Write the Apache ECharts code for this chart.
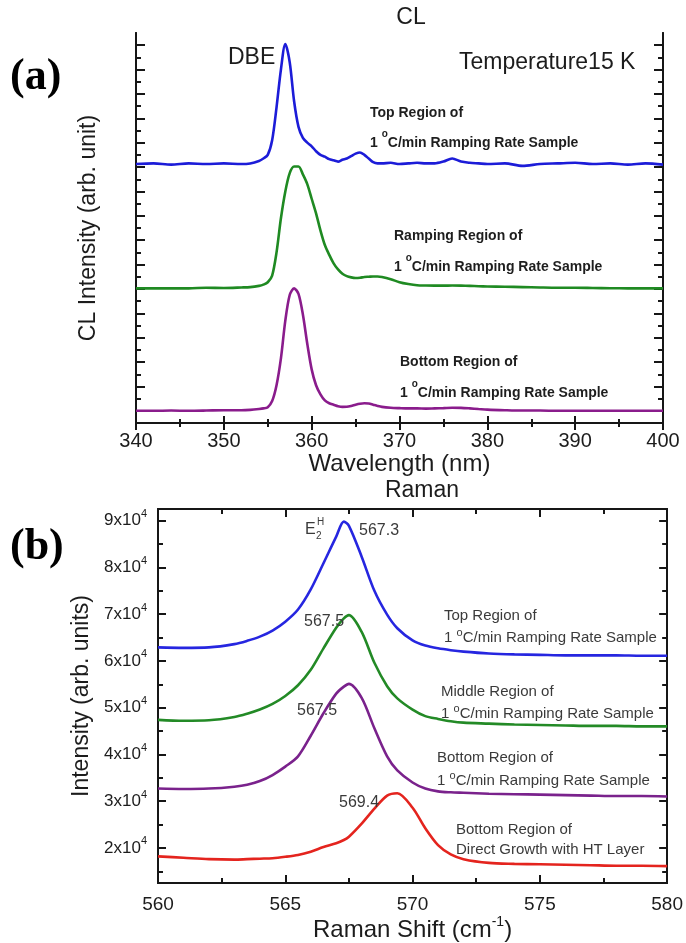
<!DOCTYPE html>
<html>
<head>
<meta charset="utf-8">
<script src="https://cdn.jsdelivr.net/npm/echarts@6/dist/echarts.min.js"></script>
<style>
  html, body { margin: 0; padding: 0; background: #fff; }
  #chart { width: 686px; height: 943px; }
</style>
</head>
<body>
<div id="chart"></div>
<script>
// ---- (a) CL spectra at 15 K, stacked intensities (arb. unit) ----
const clWavelength = [340, 342, 344, 346, 348, 350, 352, 353, 354,
  354.5, 355, 355.5, 356, 356.5, 357, 357.5, 358, 358.5, 359, 359.5, 360, 360.5, 361, 361.5, 362,
  362.5, 363, 363.5, 364, 364.5, 365, 365.5, 366, 366.5, 367, 367.5, 368,
  369, 370, 371, 372, 373, 374, 375, 376, 377, 378, 379, 380,
  382, 384, 386, 388, 390, 392, 394, 396, 398, 400];
const clTop = [21.25, 21.3, 21.2, 21.3, 21.25, 21.3, 21.25, 21.3, 21.5,
  21.7, 22.0, 23.2, 25.9, 29.0, 31.1, 29.6, 26.4, 24.3, 23.4, 23.0, 22.7, 22.3, 22.0, 21.85, 21.65,
  21.55, 21.45, 21.6, 21.7, 21.9, 22.1, 22.2, 22.0, 21.7, 21.4, 21.3, 21.3,
  21.35, 21.25, 21.3, 21.35, 21.3, 21.3, 21.45, 21.7, 21.45, 21.35, 21.3, 21.25,
  21.3, 21.1, 21.25, 21.3, 21.35, 21.25, 21.3, 21.2, 21.3, 21.2];
const clRamping = [11.05, 11.05, 11.05, 11.05, 11.1, 11.08, 11.12, 11.15, 11.25,
  11.35, 11.55, 12.1, 14.0, 16.8, 19.0, 20.5, 21.05, 21.05, 20.4, 19.6, 18.4, 17.2, 15.8, 14.6, 13.8,
  13.1, 12.6, 12.25, 12.05, 11.95, 11.9, 11.92, 11.98, 12.0, 12.02, 12.02, 11.98,
  11.8, 11.55, 11.4, 11.3, 11.28, 11.27, 11.27, 11.28, 11.27, 11.25, 11.22, 11.2,
  11.18, 11.15, 11.12, 11.1, 11.1, 11.08, 11.06, 11.05, 11.05, 11.05];
const clBottom = [1.0, 1.0, 1.02, 1.0, 1.02, 1.05, 1.05, 1.08, 1.15,
  1.2, 1.3, 1.8, 3.1, 5.3, 8.4, 10.5, 11.05, 10.6, 8.9, 6.5, 4.4, 3.1, 2.35, 1.85, 1.62,
  1.5, 1.38, 1.32, 1.33, 1.4, 1.5, 1.58, 1.62, 1.6, 1.5, 1.4, 1.32,
  1.25, 1.22, 1.2, 1.2, 1.18, 1.2, 1.22, 1.25, 1.24, 1.2, 1.15, 1.1,
  1.05, 1.02, 1.02, 1.0, 1.0, 1.0, 1.0, 1.0, 1.0, 1.0];
const clRange = [0, 32];

// ---- (b) Raman E2(high) spectra ----
const ramanShift = [560, 561, 562, 563, 563.5, 564, 564.5, 565, 565.5, 566, 566.5, 567, 567.3, 567.5,
  568, 568.5, 569, 569.4, 570, 570.5, 571, 571.5, 572, 573, 574, 575, 576, 577, 578, 579, 580];
const ramanTop = [62900, 62800, 62900, 63600, 64300, 65200, 66500, 68400, 71000, 75300, 80900, 86600, 89800, 88900,
  82300, 75000, 69900, 67000, 64400, 63300, 62700, 62300, 62000, 61600, 61400, 61300, 61200, 61200, 61200, 61100, 61100];
const ramanMiddle = [47400, 47200, 47300, 48000, 48700, 49600, 50800, 52500, 54800, 58100, 62700, 67100, 69100, 69800,
  66200, 59600, 54600, 52000, 49600, 48200, 47600, 47100, 46800, 46600, 46400, 46300, 46200, 46100, 46100, 46000, 46000];
const ramanBottom = [32700, 32600, 32700, 33100, 33500, 34300, 35600, 37400, 39600, 44000, 48800, 53000, 54500, 55100,
  52100, 45600, 39600, 36600, 34000, 32700, 32100, 31900, 31800, 31600, 31500, 31400, 31300, 31200, 31100, 31100, 31000];
const ramanDirect = [18200, 17900, 17600, 17500, 17600, 17700, 17800, 18100, 18500, 19200, 20200, 21000, 21700, 22400,
  25200, 28400, 31200, 31700, 28600, 24200, 20600, 18600, 17600, 16800, 16600, 16500, 16400, 16300, 16200, 16200, 16100];
const ramanRange = [12500, 92500];
const ramanTickLabels = [2, 3, 4, 5, 6, 7, 8, 9];   // in units of 10^4

const INK = '#161616';
const FONT = '"Liberation Sans", Arial, sans-serif';

function steps(a, b, step) {
  const out = [];
  for (let v = a; v <= b + 1e-9; v += step) out.push(+v.toFixed(6));
  return out;
}
function pairs(xs, ys) { return xs.map((x, i) => [x, ys[i]]); }

const line = { lineStyle: { color: INK, width: 2 } };
function ticks(len, custom) {
  const t = { show: true, inside: true, length: len, lineStyle: { color: INK, width: 2 } };
  if (custom) t.customValues = custom;
  return t;
}
const minor = (len) => ({ show: true, splitNumber: 2, length: len, lineStyle: { color: INK, width: 2 } });
const noSplit = { show: false };

// y frame axes: left/right, with long (major) and short (minor) inward ticks
function yFrame(gi, range, majors, minors, majLen, minLen, extraLeft) {
  const base = { type: 'value', gridIndex: gi, min: range[0], max: range[1], splitLine: noSplit, axisLine: line };
  return [
    Object.assign({}, base, { position: 'left', axisTick: ticks(majLen, majors), axisLabel: { show: false } }, extraLeft || {}),
    Object.assign({}, base, { position: 'left', axisTick: ticks(minLen, minors), axisLabel: { show: false } }),
    Object.assign({}, base, { position: 'right', axisTick: ticks(majLen, majors), axisLabel: { show: false } }),
    Object.assign({}, base, { position: 'right', axisTick: ticks(minLen, minors), axisLabel: { show: false } })
  ];
}

const clYAxes = yFrame(0, clRange, steps(1, 31, 2), steps(2, 30, 2), 9, 5, {
  name: 'CL Intensity (arb. unit)', nameLocation: 'middle', nameGap: 36,
  nameTextStyle: { fontFamily: FONT, fontSize: 23, color: '#1c1c1c' }
});
const ramanMajors = ramanTickLabels.map(v => v * 1e4);
const ramanMinors = steps(1.5, 8.5, 1).map(v => Math.round(v * 1e4));
const ramanYAxes = yFrame(1, ramanRange, ramanMajors, ramanMinors, 8, 5, {
  name: 'Intensity (arb. units)', nameLocation: 'middle', nameGap: 62,
  nameTextStyle: { fontFamily: FONT, fontSize: 23, color: '#1c1c1c' },
  axisLabel: {
    show: true, customValues: ramanMajors, margin: 11,
    formatter: v => '{m|' + Math.round(v / 1e4) + 'x10}{s|4}',
    rich: {
      m: { fontFamily: FONT, fontSize: 17, lineHeight: 24, color: '#1c1c1c' },
      s: { fontFamily: FONT, fontSize: 11, lineHeight: 11, verticalAlign: 'top', color: '#1c1c1c' }
    }
  }
});

const xBase = { type: 'value', splitLine: noSplit, axisLine: line };
const xAxes = [
  Object.assign({}, xBase, {
    gridIndex: 0, position: 'bottom', min: 340, max: 400, interval: 10,
    axisTick: ticks(7), minorTick: minor(4),
    axisLabel: { fontFamily: FONT, fontSize: 20, color: '#1c1c1c', margin: 8 },
    name: 'Wavelength (nm)', nameLocation: 'middle', nameGap: 27,
    nameTextStyle: { fontFamily: FONT, fontSize: 24, color: '#1c1c1c' }
  }),
  Object.assign({}, xBase, {
    gridIndex: 0, position: 'top', min: 340, max: 400, interval: 10,
    axisTick: ticks(7), minorTick: minor(4), axisLabel: { show: false }
  }),
  Object.assign({}, xBase, {
    gridIndex: 1, position: 'bottom', min: 560, max: 580, interval: 5,
    axisTick: ticks(8), minorTick: minor(5),
    axisLabel: { fontFamily: FONT, fontSize: 19, color: '#1c1c1c', margin: 12 },
    name: '{n|Raman Shift (cm}{s|-1}{n|)}', nameLocation: 'middle', nameGap: 32,
    nameTextStyle: {
      rich: {
        n: { fontFamily: FONT, fontSize: 24, lineHeight: 30, color: '#1c1c1c' },
        s: { fontFamily: FONT, fontSize: 14, lineHeight: 14, verticalAlign: 'top', color: '#1c1c1c' }
      }
    }
  }),
  Object.assign({}, xBase, {
    gridIndex: 1, position: 'top', min: 560, max: 580, interval: 5,
    axisTick: ticks(8), minorTick: minor(5), axisLabel: { show: false }
  })
];

function spectrum(name, xs, ys, color, xi, yi) {
  return {
    name, type: 'line', xAxisIndex: xi, yAxisIndex: yi, data: pairs(xs, ys),
    showSymbol: false, smooth: 0.3,
    lineStyle: { color, width: 2.6 }, itemStyle: { color }, z: 3
  };
}

// text helpers for the graphic layer
function txt(x, y, text, font, fill, extra) {
  return { type: 'text', x, y, z: 10,
    style: Object.assign({ text, font, fill: fill || '#1c1c1c', align: 'left', verticalAlign: 'middle' }, extra || {}) };
}
function rateText(x, y, bold, size, lh, color) {
  const w = bold ? 'bold' : 'normal';
  return txt(x, y, '{n|1 }{s|o}{n|C/min Ramping Rate Sample}', null, color, {
    rich: {
      n: { fontFamily: FONT, fontWeight: w, fontSize: size, lineHeight: lh, fill: color },
      s: { fontFamily: FONT, fontWeight: w, fontSize: size - 4, lineHeight: size - 4, verticalAlign: 'top', fill: color }
    }
  });
}

const B14 = 'bold 14px ' + FONT;
const R15 = '15px ' + FONT;
const R16 = '16px ' + FONT;
const grayA = '#1e1e1e';
const grayB = '#3a3a3a';

const graphics = [
  txt(10, 78, '(a)', 'bold 44px "Liberation Serif", "Times New Roman", serif', '#000'),
  txt(10, 548, '(b)', 'bold 44px "Liberation Serif", "Times New Roman", serif', '#000'),
  txt(411, 18, 'CL', '23px ' + FONT, '#1c1c1c', { align: 'center' }),
  txt(422, 491, 'Raman', '23px ' + FONT, '#1c1c1c', { align: 'center' }),
  txt(228, 58, 'DBE', '23px ' + FONT),
  txt(459, 63, 'Temperature15 K', '23px ' + FONT),
  txt(370, 113, 'Top Region of', B14, grayA),
  rateText(370, 143, true, 14, 28, grayA),
  txt(394, 236, 'Ramping Region of', B14, grayA),
  rateText(394, 267, true, 14, 28, grayA),
  txt(400, 362, 'Bottom Region of', B14, grayA),
  rateText(400, 393, true, 14, 28, grayA),
  // Raman peak annotations
  txt(305, 530, 'E', R16, grayB),
  txt(316, 536, '2', '10px ' + FONT, grayB),
  txt(317, 522, 'H', '10px ' + FONT, grayB),
  txt(359, 531, '567.3', R16, grayB),
  txt(304, 622, '567.5', R16, grayB),
  txt(297, 711, '567.5', R16, grayB),
  txt(339, 803, '569.4', R16, grayB),
  txt(444, 616, 'Top Region of', R15, grayB),
  rateText(444, 638, false, 15, 22, grayB),
  txt(441, 692, 'Middle Region of', R15, grayB),
  rateText(441, 714, false, 15, 22, grayB),
  txt(437, 758, 'Bottom Region of', R15, grayB),
  rateText(437, 781, false, 15, 22, grayB),
  txt(456, 830, 'Bottom Region of', R15, grayB),
  txt(456, 850, 'Direct Growth with HT Layer', R15, grayB)
];

const chart = echarts.init(document.getElementById('chart'), null, { renderer: 'canvas' });
chart.setOption({
  backgroundColor: '#ffffff',
  animation: false,
  grid: [
    { left: 136, top: 33, width: 527, height: 390 },
    { left: 158, top: 509, width: 512, height: 378 }
  ],
  xAxis: xAxes,
  yAxis: clYAxes.concat(ramanYAxes),
  series: [
    spectrum('Top Region', clWavelength, clTop, '#1c1cd8', 0, 0),
    spectrum('Ramping Region', clWavelength, clRamping, '#1f8a22', 0, 0),
    spectrum('Bottom Region', clWavelength, clBottom, '#8a1c8c', 0, 0),
    spectrum('Top Region', ramanShift, ramanTop, '#2626e0', 2, 4),
    spectrum('Middle Region', ramanShift, ramanMiddle, '#238a26', 2, 4),
    spectrum('Bottom Region', ramanShift, ramanBottom, '#7a228c', 2, 4),
    spectrum('Direct Growth', ramanShift, ramanDirect, '#e4241e', 2, 4)
  ],
  graphic: graphics
});
</script>
</body>
</html>
